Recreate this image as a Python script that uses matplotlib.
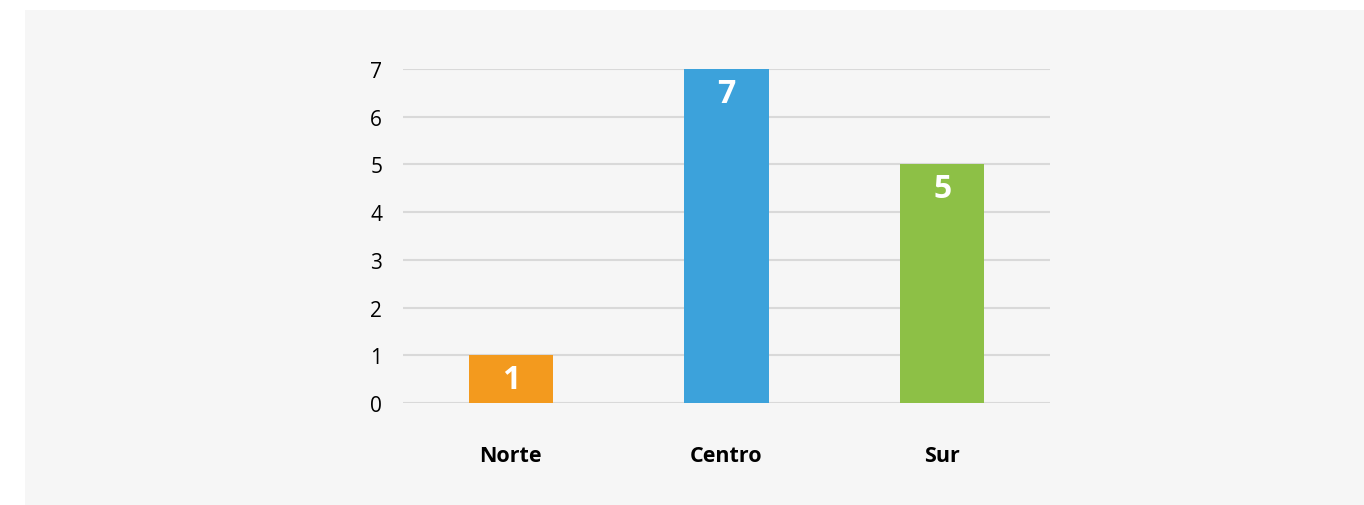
import matplotlib.pyplot as plt
from matplotlib.patches import Rectangle

# datos
regiones = ['Norte', 'Centro', 'Sur']
valores = [1, 7, 5]
colores = ['#F39A1E', '#3CA2DB', '#8DC046']
ticks_y = [0, 1, 2, 3, 4, 5, 6, 7]

plt.rcParams['font.family'] = ['Open Sans', 'DejaVu Sans']

fig = plt.figure(figsize=(13.64, 5.06), dpi=100)
fig.patch.set_facecolor('white')
# panel gris de fondo (detras de los ejes)
fig.patches.append(Rectangle((25 / 1364, 0), 1 - 25 / 1364, (506 - 11) / 506,
                             transform=fig.transFigure, facecolor='#f6f6f6',
                             edgecolor='none', zorder=-1))

ax = fig.add_axes([403 / 1364, 102 / 506, 647 / 1364, 334 / 506])
ax.set_facecolor('none')

x = range(len(regiones))
bars = ax.bar(x, valores, width=0.39, color=colores, zorder=3)

for b, v in zip(bars, valores):
    ax.annotate(str(v), (b.get_x() + b.get_width() / 2, v),
                xytext=(0, -24), textcoords='offset pixels',
                ha='center', va='center', color='white',
                fontsize=23, fontweight='bold', zorder=4)

ax.set_xlim(-0.5, 2.5)
ax.set_ylim(0, 7)
ax.set_yticks(ticks_y)
ax.set_xticks(list(x))
ax.set_xticklabels(regiones, fontsize=15.5, fontweight='bold')
ax.tick_params(axis='x', length=0, pad=30)
ax.tick_params(axis='y', length=0, pad=15, labelsize=15)

ax.grid(axis='y', color='#d9d9d9', linewidth=1.5, zorder=1)
ax.set_axisbelow(True)
for s in ax.spines.values():
    s.set_visible(False)

fig.savefig('out.png', dpi=100)
